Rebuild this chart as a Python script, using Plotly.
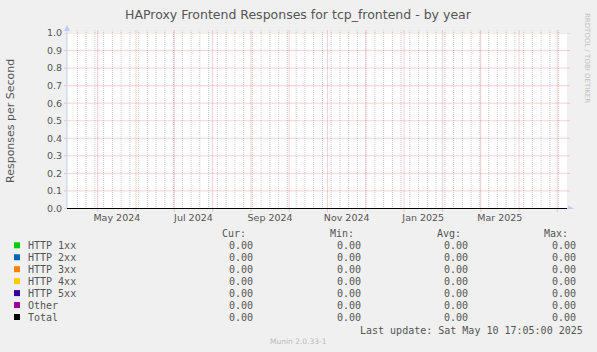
import plotly.graph_objects as go
import pandas as pd

# ---------------- data ----------------
title = "HAProxy Frontend Responses for tcp_frontend - by year"
y_title = "Responses per Second"
series_names = ["HTTP 1xx", "HTTP 2xx", "HTTP 3xx", "HTTP 4xx", "HTTP 5xx", "Other", "Total"]
series_colors = ["#00CC00", "#0066B3", "#FF8000", "#FFCC00", "#330099", "#990099", "#000000"]

sample_dates = ["2024-04-05 17:05", "2024-05-10 00:00", "2024-06-10 00:00", "2024-07-10 00:00",
                "2024-08-10 00:00", "2024-09-10 00:00", "2024-10-10 00:00", "2024-11-10 00:00",
                "2024-12-10 00:00", "2025-01-10 00:00", "2025-02-10 00:00", "2025-03-10 00:00",
                "2025-04-10 00:00", "2025-05-10 17:05"]
http_1xx = [0, 0, 0, 0, 0, 0, 0, 0, 0, 0, 0, 0, 0, 0]
http_2xx = [0, 0, 0, 0, 0, 0, 0, 0, 0, 0, 0, 0, 0, 0]
http_3xx = [0, 0, 0, 0, 0, 0, 0, 0, 0, 0, 0, 0, 0, 0]
http_4xx = [0, 0, 0, 0, 0, 0, 0, 0, 0, 0, 0, 0, 0, 0]
http_5xx = [0, 0, 0, 0, 0, 0, 0, 0, 0, 0, 0, 0, 0, 0]
other = [0, 0, 0, 0, 0, 0, 0, 0, 0, 0, 0, 0, 0, 0]
total = [0, 0, 0, 0, 0, 0, 0, 0, 0, 0, 0, 0, 0, 0]
series_values = [http_1xx, http_2xx, http_3xx, http_4xx, http_5xx, other, total]

cur_vals = [0.00, 0.00, 0.00, 0.00, 0.00, 0.00, 0.00]
min_vals = [0.00, 0.00, 0.00, 0.00, 0.00, 0.00, 0.00]
avg_vals = [0.00, 0.00, 0.00, 0.00, 0.00, 0.00, 0.00]
max_vals = [0.00, 0.00, 0.00, 0.00, 0.00, 0.00, 0.00]

x_labels = ["May 2024", "Jul 2024", "Sep 2024", "Nov 2024", "Jan 2025", "Mar 2025"]
y_ticks = [0.0, 0.1, 0.2, 0.3, 0.4, 0.5, 0.6, 0.7, 0.8, 0.9, 1.0]
last_update = "Last update: Sat May 10 17:05:00 2025"
munin_ver = "Munin 2.0.33-1"
watermark = "RRDTOOL / TOBI OETIKER"

# ---------------- geometry / time axis ----------------
W, H = 597, 352
L, R, T, B = 67, 30, 33, 143
PW, PH = W - L - R, H - T - B

t_end = pd.Timestamp("2025-05-10 17:05")
t_start = t_end - pd.Timedelta(days=400)
month_step = pd.Timedelta(days=30.64)
major_dates = [pd.Timestamp("2024-04-30 06:30") + k * month_step for k in range(13)]
label_dates = [major_dates[2 * k] + month_step / 2 for k in range(len(x_labels))]
minor_dates = list(pd.date_range("2024-04-14", "2025-05-04", freq="7D"))

def xp(px):
    return (px - L) / PW

def yp(py):
    return (H - B - py) / PH

TXT = "#555555"
MGRID = "rgba(222,79,79,0.5)"
GRID = "rgba(143,143,143,0.45)"
AXIS = "#C4CCF4"

fig = go.Figure()
xdates = pd.to_datetime(sample_dates, format="%Y-%m-%d %H:%M")
for name, col, vals in zip(series_names, series_colors, series_values):
    fig.add_trace(go.Scatter(x=xdates, y=vals, mode="lines",
                             line=dict(color=col, width=1), name=name,
                             showlegend=False, hoverinfo="skip"))

shapes = []
for d in minor_dates:
    shapes.append(dict(type="line", xref="x", yref="paper", x0=d, x1=d, y0=0, y1=1 + 2.5 / PH,
                       line=dict(color=GRID, width=1, dash="1px,1px"), layer="between"))
for d in major_dates:
    shapes.append(dict(type="line", xref="x", yref="paper", x0=d, x1=d, y0=-2.5 / PH, y1=1 + 2.5 / PH,
                       line=dict(color=MGRID, width=1, dash="1px,1px"), layer="between"))
for v in y_ticks:
    shapes.append(dict(type="line", xref="paper", yref="y", x0=-2.5 / PW, x1=1 + 2.5 / PW, y0=v, y1=v,
                       line=dict(color=MGRID, width=1, dash="1px,1px"), layer="between"))
shapes.append(dict(type="line", xref="paper", yref="y", x0=0, x1=0, y0=-0.012, y1=1.0,
                   line=dict(color=AXIS, width=1), layer="between"))
shapes.append(dict(type="line", xref="paper", yref="paper", x0=0, x1=0, y0=1, y1=1 + 6 / PH,
                   line=dict(color=AXIS, width=1), layer="between"))
shapes.append(dict(type="path", xref="paper", yref="paper", xsizemode="pixel", ysizemode="pixel",
                   xanchor=0, yanchor=1, path="M -3,2 L 3,2 L 0,8 Z",
                   fillcolor=AXIS, line=dict(width=0), layer="between"))
shapes.append(dict(type="line", xref="paper", yref="y", x0=-2.5 / PW, x1=1 + 2 / PW, y0=0, y1=0,
                   line=dict(color=AXIS, width=1), layer="between"))
shapes.append(dict(type="path", xref="paper", yref="y", xsizemode="pixel", ysizemode="pixel",
                   xanchor=1, yanchor=0, path="M 1,-3 L 1,3 L 7,0 Z",
                   fillcolor=AXIS, line=dict(width=0), layer="between"))

annotations = []
annotations.append(dict(text=title, xref="paper", yref="paper", x=xp(298), y=yp(14),
                        xanchor="center", yanchor="middle", showarrow=False,
                        font=dict(family="DejaVu Sans", size=12.5, color=TXT)))
annotations.append(dict(text=y_title, xref="paper", yref="paper", x=xp(10), y=yp(121),
                        xanchor="center", yanchor="middle", showarrow=False, textangle=-90,
                        font=dict(family="DejaVu Sans", size=11, color=TXT)))
annotations.append(dict(text=watermark, xref="paper", yref="paper", x=xp(587), y=yp(58),
                        xanchor="center", yanchor="middle", showarrow=False, textangle=90,
                        font=dict(family="DejaVu Sans", size=7, color="#C0C0C0")))
annotations.append(dict(text=munin_ver, xref="paper", yref="paper", x=xp(298), y=yp(341),
                        xanchor="center", yanchor="middle", showarrow=False,
                        font=dict(family="DejaVu Sans", size=7.5, color="#BBBBBB")))

MONO = dict(family="DejaVu Sans Mono", size=10, color=TXT)
header_y = 233.3
row_y0, row_dy = 245.6, 11.95
col_specs = [("Cur:", 246.7, 254.3, cur_vals), ("Min:", 355.0, 362.0, min_vals),
             ("Avg:", 461.7, 469.0, avg_vals), ("Max:", 569.3, 576.7, max_vals)]
for hdr, hx, vx, vals in col_specs:
    annotations.append(dict(text=hdr, xref="paper", yref="paper", x=xp(hx), y=yp(header_y),
                            xanchor="right", yanchor="middle", showarrow=False, borderpad=0, font=MONO))
    for i, v in enumerate(vals):
        annotations.append(dict(text="%.2f" % v, xref="paper", yref="paper", x=xp(vx),
                                y=yp(row_y0 + i * row_dy), xanchor="right", yanchor="middle",
                                showarrow=False, borderpad=0, font=MONO))
for i, (name, col) in enumerate(zip(series_names, series_colors)):
    cy = row_y0 + i * row_dy
    annotations.append(dict(text=name, xref="paper", yref="paper", x=xp(26.5), y=yp(cy),
                            xanchor="left", yanchor="middle", showarrow=False, borderpad=0, font=MONO))
    shapes.append(dict(type="rect", xref="paper", yref="paper", x0=xp(14), x1=xp(20),
                       y0=yp(cy - 3.3), y1=yp(cy + 2.7), fillcolor=col, line=dict(width=0), layer="above"))
annotations.append(dict(text=last_update, xref="paper", yref="paper", x=xp(584), y=yp(330.3),
                        xanchor="right", yanchor="middle", showarrow=False, borderpad=0, font=MONO))

fig.update_layout(
    width=W, height=H, margin=dict(l=L, r=R, t=T, b=B, pad=0),
    paper_bgcolor="#F0F0F0", plot_bgcolor="#FFFFFF",
    showlegend=False, shapes=shapes, annotations=annotations,
    xaxis=dict(type="date", range=[t_start, t_end], showgrid=False, zeroline=False, showline=False,
               tickvals=label_dates, ticktext=x_labels, ticks="", ticklabelstandoff=1,
               tickfont=dict(family="DejaVu Sans", size=9.5, color=TXT), fixedrange=True),
    yaxis=dict(range=[-0.00285, 1.0], showgrid=False, zeroline=False, showline=False,
               tickvals=y_ticks, ticktext=["%.1f" % v for v in y_ticks], ticks="",
               ticklabelstandoff=4,
               tickfont=dict(family="DejaVu Sans", size=9.5, color=TXT), fixedrange=True),
)

fig.write_html("out.html")
